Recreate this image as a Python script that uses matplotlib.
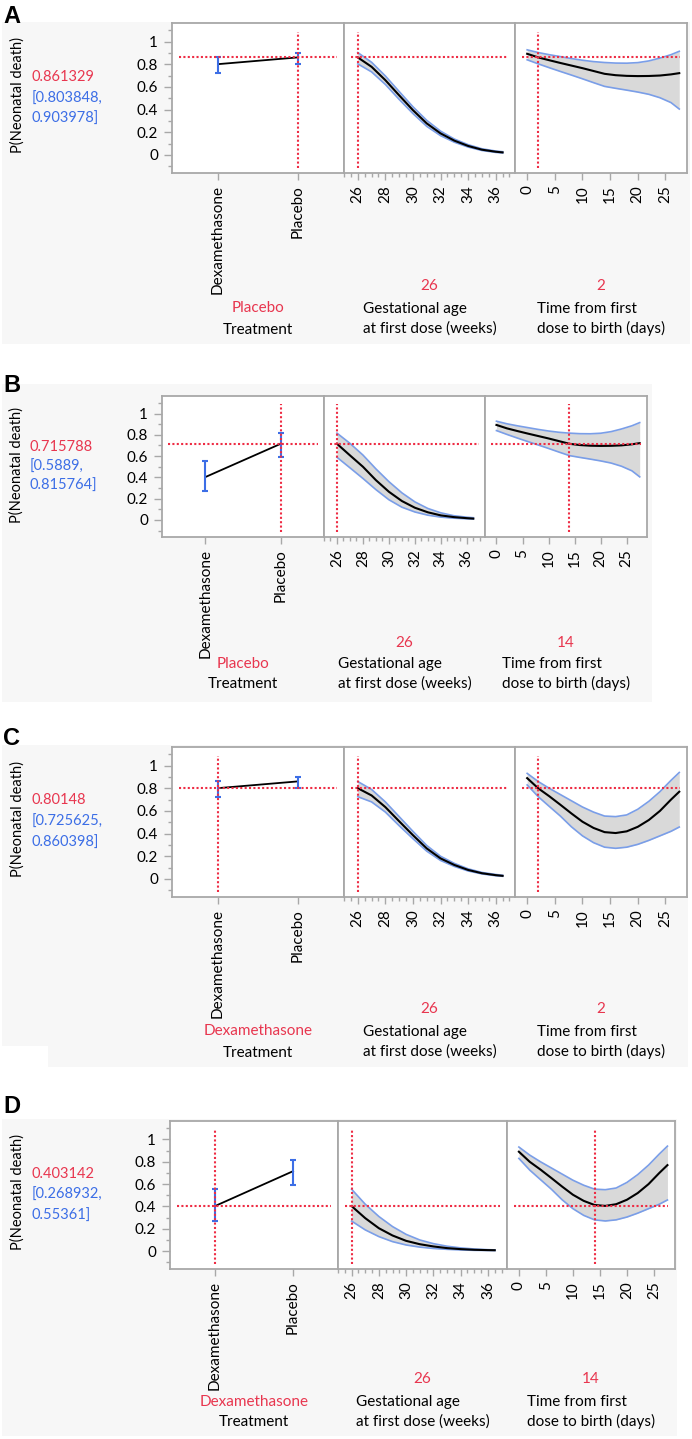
import matplotlib
matplotlib.use("Agg")
import matplotlib.pyplot as plt
from matplotlib.patches import Rectangle
from matplotlib.ticker import MultipleLocator, FixedLocator

# ---- data ----
treatments = ["Dexamethasone", "Placebo"]

# predicted P(neonatal death) at GA 26 weeks, by treatment, for time = 2 and 14 days
treat_p_t2 = [0.80148, 0.861329]
treat_lo_t2 = [0.725625, 0.803848]
treat_hi_t2 = [0.860398, 0.903978]
treat_p_t14 = [0.403142, 0.715788]
treat_lo_t14 = [0.268932, 0.5889]
treat_hi_t14 = [0.55361, 0.815764]

# gestational age profiles
ga_weeks = [26, 27, 28, 29, 30, 31, 32, 33, 34, 35, 36, 36.5]
ga_plac_t2 = [0.861, 0.778, 0.66, 0.526, 0.395, 0.278, 0.19, 0.126, 0.079, 0.046, 0.028, 0.022]
ga_plac_t2_hi = [0.904, 0.818, 0.697, 0.56, 0.425, 0.305, 0.21, 0.14, 0.09, 0.054, 0.034, 0.028]
ga_plac_t2_lo = [0.804, 0.733, 0.622, 0.49, 0.365, 0.252, 0.17, 0.112, 0.069, 0.039, 0.022, 0.017]
ga_plac_t14 = [0.716, 0.607, 0.50, 0.374, 0.265, 0.178, 0.115, 0.072, 0.043, 0.027, 0.017, 0.013]
ga_plac_t14_hi = [0.816, 0.72, 0.61, 0.48, 0.36, 0.255, 0.17, 0.108, 0.067, 0.04, 0.026, 0.021]
ga_plac_t14_lo = [0.589, 0.49, 0.39, 0.285, 0.19, 0.12, 0.075, 0.045, 0.027, 0.017, 0.011, 0.008]
ga_dex_t2 = [0.801, 0.737, 0.634, 0.509, 0.386, 0.269, 0.181, 0.123, 0.079, 0.05, 0.033, 0.027]
ga_dex_t2_hi = [0.860, 0.79, 0.68, 0.55, 0.42, 0.295, 0.2, 0.137, 0.089, 0.057, 0.039, 0.032]
ga_dex_t2_lo = [0.726, 0.68, 0.59, 0.47, 0.355, 0.245, 0.163, 0.11, 0.07, 0.044, 0.028, 0.023]
ga_dex_t14 = [0.403, 0.295, 0.205, 0.14, 0.092, 0.062, 0.042, 0.027, 0.018, 0.012, 0.009, 0.008]
ga_dex_t14_hi = [0.554, 0.42, 0.31, 0.22, 0.15, 0.10, 0.067, 0.044, 0.029, 0.019, 0.013, 0.011]
ga_dex_t14_lo = [0.269, 0.19, 0.13, 0.085, 0.055, 0.036, 0.024, 0.016, 0.011, 0.007, 0.006, 0.005]

# time-to-birth profiles (GA 26)
time_days = [0, 2, 4, 6, 8, 10, 12, 14, 16, 18, 20, 22, 24, 26, 27.5]
time_plac = [0.893, 0.861, 0.836, 0.812, 0.789, 0.766, 0.741, 0.716, 0.704, 0.698, 0.696, 0.697, 0.701, 0.711, 0.722]
time_plac_hi = [0.928, 0.904, 0.885, 0.868, 0.851, 0.836, 0.824, 0.816, 0.811, 0.81, 0.815, 0.83, 0.855, 0.885, 0.915]
time_plac_lo = [0.84, 0.804, 0.77, 0.737, 0.705, 0.672, 0.638, 0.605, 0.588, 0.572, 0.555, 0.535, 0.505, 0.462, 0.405]
time_dex = [0.89, 0.80, 0.73, 0.655, 0.578, 0.505, 0.45, 0.413, 0.405, 0.42, 0.46, 0.52, 0.6, 0.7, 0.77]
time_dex_hi = [0.932, 0.86, 0.80, 0.745, 0.69, 0.635, 0.59, 0.555, 0.55, 0.565, 0.615, 0.685, 0.77, 0.87, 0.94]
time_dex_lo = [0.83, 0.726, 0.64, 0.555, 0.46, 0.38, 0.32, 0.28, 0.27, 0.28, 0.305, 0.34, 0.38, 0.42, 0.458]

panel_letters = ["A", "B", "C", "D"]
panel_treatment = [1, 1, 0, 0]   # index into treatments
panel_time = [2, 14, 2, 14]
ga_current = 26

y_ticks = [0, 0.2, 0.4, 0.6, 0.8, 1]
y_ticklabels = ["0", "0.2", "0.4", "0.6", "0.8", "1"]

# ---- layout (pixel positions in the 692x1439 picture) ----
W, H = 692, 1439
layouts = [
    dict(letter_y=23, gray=(2, 22, 690, 344), frame=(172, 23, 687, 173), div=(344, 515),
         vals_x=32, vals_y=(77, 99, 119), ylab=(18, 95), rows=(286, 308, 330)),
    dict(letter_y=392, gray=(2, 384, 652, 702), frame=(162, 396, 647, 537), div=(324, 485),
         vals_x=30, vals_y=(447, 467, 486), ylab=(17, 465), rows=(643, 664, 684)),
    dict(letter_y=745, gray=(2, 745, 688, 1067), frame=(172, 747, 687, 897), div=(344, 515),
         vals_x=32, vals_y=(800, 822, 843), ylab=(18, 819), rows=(1009, 1031, 1053)),
    dict(letter_y=1113, gray=(2, 1119, 677, 1436), frame=(170, 1121, 675, 1269), div=(338, 507),
         vals_x=32, vals_y=(1174, 1195, 1216), ylab=(18, 1192), rows=(1379, 1402, 1422)),
]

RED = "#e8364f"
BLUE = "#3c6ee6"
BAND_EDGE = "#7a9ee8"
BAND_FILL = "#d9d9d9"
FRAME = "#a8a8a8"
FONT = "Lato"

plt.rcParams["font.family"] = [FONT, "DejaVu Sans"]

fig = plt.figure(figsize=(W / 100, H / 100), dpi=100)


def fx(x):
    return x / W


def fy(y):
    return 1 - y / H


def style_axis(ax):
    for s in ax.spines.values():
        s.set_color(FRAME)
        s.set_linewidth(1.3)
    ax.set_facecolor("white")
    ax.set_ylim(-0.16, 1.165)
    ax.tick_params(axis="both", which="major", length=5, width=1, color=FRAME,
                   labelsize=11, pad=4)
    ax.tick_params(axis="both", which="minor", length=3, width=1, color=FRAME)
    ax.tick_params(axis="x", labelrotation=90)


def ref_lines(ax, xval, yval):
    kw = dict(color="#ee2c44", lw=1.5, linestyle=(0, (1, 1.1)), zorder=4)
    ax.axhline(yval, xmin=0.04, xmax=0.96, **kw)
    ax.axvline(xval, ymin=0.035, ymax=0.94, **kw)


for i, lay in enumerate(layouts):
    tr = panel_treatment[i]
    t_now = panel_time[i]
    if t_now == 2:
        tp, tlo, thi = treat_p_t2, treat_lo_t2, treat_hi_t2
    else:
        tp, tlo, thi = treat_p_t14, treat_lo_t14, treat_hi_t14
    if tr == 1 and t_now == 2:
        g, glo, ghi = ga_plac_t2, ga_plac_t2_lo, ga_plac_t2_hi
    elif tr == 1:
        g, glo, ghi = ga_plac_t14, ga_plac_t14_lo, ga_plac_t14_hi
    elif t_now == 2:
        g, glo, ghi = ga_dex_t2, ga_dex_t2_lo, ga_dex_t2_hi
    else:
        g, glo, ghi = ga_dex_t14, ga_dex_t14_lo, ga_dex_t14_hi
    if tr == 1:
        tc, tclo, tchi = time_plac, time_plac_lo, time_plac_hi
    else:
        tc, tclo, tchi = time_dex, time_dex_lo, time_dex_hi
    p_now = tp[tr]

    # background panel + letter
    gx0, gy0, gx1, gy1 = lay["gray"]
    fig.patches.append(Rectangle((fx(gx0), fy(gy1)), (gx1 - gx0) / W, (gy1 - gy0) / H,
                                 transform=fig.transFigure, facecolor="#f7f7f7",
                                 edgecolor="none", zorder=-10))
    if i == 2:
        # small white notch at the lower left of panel C
        fig.patches.append(Rectangle((fx(0), fy(1068)), 48 / W, 22 / H,
                                     transform=fig.transFigure, facecolor="white",
                                     edgecolor="none", zorder=-9))
    fig.text(fx(3), fy(lay["letter_y"]), panel_letters[i], family="Liberation Sans",
             fontweight="bold", fontsize=17, va="baseline", ha="left")

    x0, y0, x1, y1 = lay["frame"]
    d1, d2 = lay["div"]
    h = (y1 - y0) / H
    ax1 = fig.add_axes([fx(x0), fy(y1), (d1 - x0) / W, h])
    ax2 = fig.add_axes([fx(d1), fy(y1), (d2 - d1) / W, h])
    ax3 = fig.add_axes([fx(d2), fy(y1), (x1 - d2) / W, h])
    for ax in (ax1, ax2, ax3):
        style_axis(ax)

    # treatment panel
    xs = list(range(len(treatments)))
    ax1.plot(xs, tp, color="black", lw=1.3, zorder=3)
    ax1.errorbar(xs, tp, yerr=[[p - l for p, l in zip(tp, tlo)], [u - p for p, u in zip(tp, thi)]],
                 fmt="none", ecolor=BLUE, elinewidth=1.5, capsize=2.5, capthick=1.5, zorder=3)
    ax1.set_xlim(-0.575, 1.575)
    ax1.set_xticks(xs)
    ax1.set_xticklabels(treatments)
    ax1.yaxis.set_major_locator(FixedLocator(y_ticks))
    ax1.set_yticklabels(y_ticklabels)
    ax1.yaxis.set_minor_locator(MultipleLocator(0.1))
    ax1.tick_params(axis="y", which="major", length=6, pad=4)
    ref_lines(ax1, tr, p_now)

    # gestational age panel
    ax2.fill_between(ga_weeks, glo, ghi, color=BAND_FILL, lw=0, zorder=1)
    ax2.plot(ga_weeks, ghi, color=BAND_EDGE, lw=1.2, zorder=2)
    ax2.plot(ga_weeks, glo, color=BAND_EDGE, lw=1.2, zorder=2)
    ax2.plot(ga_weeks, g, color="black", lw=1.5, zorder=3)
    ax2.set_xlim(25.0, 37.4)
    ax2.xaxis.set_major_locator(MultipleLocator(2))
    ax2.xaxis.set_minor_locator(MultipleLocator(0.5))
    ax2.tick_params(left=False, labelleft=False, which="both")
    ref_lines(ax2, ga_current, p_now)

    # time panel
    ax3.fill_between(time_days, tclo, tchi, color=BAND_FILL, lw=0, zorder=1)
    ax3.plot(time_days, tchi, color=BAND_EDGE, lw=1.2, zorder=2)
    ax3.plot(time_days, tclo, color=BAND_EDGE, lw=1.2, zorder=2)
    ax3.plot(time_days, tc, color="black", lw=1.5, zorder=3)
    ax3.set_xlim(-2.2, 28.9)
    ax3.xaxis.set_major_locator(MultipleLocator(5))
    ax3.tick_params(left=False, labelleft=False, which="both")
    ref_lines(ax3, t_now, p_now)

    # left column: y label and current prediction
    fig.text(fx(lay["ylab"][0]), fy(lay["ylab"][1]), "P(Neonatal death)", rotation=90,
             ha="center", va="center", fontsize=10.5)
    vx = fx(lay["vals_x"])
    vy = lay["vals_y"]
    fig.text(vx, fy(vy[0]), f"{p_now:g}", color=RED, fontsize=10.5, va="center")
    fig.text(vx, fy(vy[1]), f"[{tlo[tr]:g},", color=BLUE, fontsize=10.5, va="center")
    fig.text(vx, fy(vy[2]), f"{thi[tr]:g}]", color=BLUE, fontsize=10.5, va="center")

    # bottom factor labels
    r0, r1, r2 = lay["rows"]
    c1 = fx((x0 + d1) / 2)
    c2 = fx((d1 + d2) / 2)
    c3 = fx((d2 + x1) / 2)
    fig.text(c1, fy(r1), treatments[tr], color=RED, fontsize=11, ha="center", va="center")
    fig.text(c1, fy(r2), "Treatment", fontsize=11, ha="center", va="center")
    fig.text(c2, fy(r0), str(ga_current), color=RED, fontsize=11, ha="center", va="center")
    fig.text(c2, fy((r1 + r2) / 2), "Gestational age\nat first dose (weeks)", fontsize=11,
             ha="center", va="center", multialignment="left", linespacing=1.45)
    fig.text(c3, fy(r0), str(t_now), color=RED, fontsize=11, ha="center", va="center")
    fig.text(c3, fy((r1 + r2) / 2), "Time from first\ndose to birth (days)", fontsize=11,
             ha="center", va="center", multialignment="left", linespacing=1.45)

fig.savefig("out.png", dpi=100, facecolor="white")
